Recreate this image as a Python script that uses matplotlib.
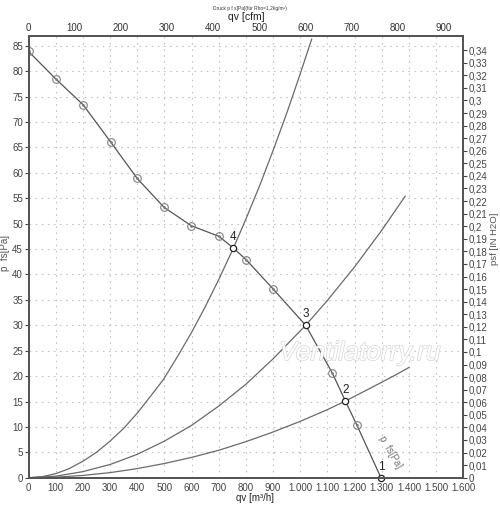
import matplotlib
matplotlib.use("Agg")
import matplotlib.pyplot as plt
import matplotlib.patheffects as pe

plt.rcParams['font.family'] = ['Liberation Sans', 'DejaVu Sans']

# fan curve p fs [Pa] vs qv [m3/h]
fan_q = [0, 100, 201, 302, 400, 499, 599, 701, 754, 801, 901, 1020, 1118, 1166, 1208, 1297]
fan_p = [83.9, 78.5, 73.4, 66.1, 58.9, 53.2, 49.6, 47.5, 45.2, 42.9, 37.1, 30.0, 20.6, 15.1, 10.4, 0.0]
# dotted markers (not the numbered operating points)
mark_q = [0, 100, 201, 302, 400, 499, 599, 701, 801, 901, 1118, 1208]
mark_p = [83.9, 78.5, 73.4, 66.1, 58.9, 53.2, 49.6, 47.5, 42.9, 37.1, 20.6, 10.4]
# numbered operating points
op_q = [1297, 1166, 1020, 754]
op_p = [0.0, 15.1, 30.0, 45.2]
op_lbl = ['1', '2', '3', '4']

# system curves
sysA_q = [0, 50, 100, 150, 202, 250, 300, 350, 400, 450, 496, 550, 600, 650, 700,
          754, 800, 850, 900, 950, 1000, 1042]
sysA_p = [0, 0.2, 0.8, 1.8, 3.3, 5.0, 7.2, 9.7, 12.7, 16.1, 19.3, 24.0, 28.6, 33.6, 39.0,
          45.2, 50.9, 57.4, 64.4, 71.7, 79.5, 86.3]
sysB_q = [0, 100, 200, 300, 400, 500, 600, 700, 800, 900, 1020, 1100, 1200, 1300, 1386]
sysB_p = [0, 0.3, 1.2, 2.6, 4.6, 7.2, 10.3, 14.1, 18.4, 23.4, 30.0, 34.9, 41.5, 48.7, 55.4]
sysC_q = [0, 100, 200, 300, 400, 500, 600, 700, 800, 900, 1000, 1100, 1166, 1250, 1300, 1350, 1400]
sysC_p = [0, 0.1, 0.45, 1.0, 1.8, 2.8, 4.0, 5.4, 7.1, 9.0, 11.1, 13.4, 15.1, 17.4, 18.8, 20.2, 21.7]

x_ticks = list(range(0, 1700, 100))
x_lbls = ['0', '100', '200', '300', '400', '500', '600', '700', '800', '900',
          '1.000', '1.100', '1.200', '1.300', '1.400', '1.500', '1.600']
y_ticks = list(range(0, 90, 5))
cfm_ticks = list(range(0, 1000, 100))
inh2o_ticks = [i / 100 for i in range(0, 35)]

fig = plt.figure(figsize=(5.0, 5.05), dpi=100)
ax = fig.add_axes([0.057, 0.054, 0.8696, 0.8754])

tc = '#444444'
ax.set_xlim(0, 1600)
ax.set_ylim(0, 87)
ax.set_xticks(x_ticks)
ax.set_xticklabels(x_lbls)
ax.set_yticks(y_ticks)
ax.tick_params(axis='both', labelsize=7, colors=tc, length=3, width=0.8, pad=1)
ax.tick_params(axis='x', length=0, pad=4)
ax.grid(True, color='#c4c4c4', linestyle=(0, (1.5, 4)), linewidth=0.8)
for s in ax.spines.values():
    s.set_color('#555555')
    s.set_linewidth(1.3)

for q, p in ((sysA_q, sysA_p), (sysB_q, sysB_p), (sysC_q, sysC_p)):
    ax.plot(q, p, color='#6a6a6a', lw=0.9)
ax.plot(fan_q, fan_p, color='#555555', lw=0.9)
ax.plot(mark_q, mark_p, 'o', ms=5.5, mfc='none', mec='#808080', mew=0.8)
ax.plot(mark_q, mark_p, '.', ms=2, color='#808080')
ax.plot(op_q, op_p, 'o', ms=4.5, mfc='white', mec='#222222', mew=0.9, clip_on=False)
for q, p, t in zip(op_q, op_p, op_lbl):
    ax.text(q, p + 1.0, t, fontsize=8.5, color='#222222', ha='center', va='bottom')

ax.text(1330, 5, 'p  fs[Pa]', fontsize=7, color='#777777', rotation=-60,
        ha='center', va='center')
ax.text(0.762, 0.282, 'Ventilatorry.ru', transform=ax.transAxes, fontsize=19,
        style='italic', color='white', ha='center', va='center',
        path_effects=[pe.withStroke(linewidth=1.0, foreground='#d6d6d6')])

ax.set_xlabel('qv [m\u00b3/h]', fontsize=7, color='#222222')
ax.xaxis.set_label_coords(0.52, -0.035)
ax.set_ylabel('p  fs[Pa]', fontsize=7, color='#555555')
ax.yaxis.set_label_coords(-0.043, 0.508)

# top axis in cfm
axt = ax.twiny()
axt.set_xlim(0, 1600 / 1.699)
axt.set_xticks(cfm_ticks)
axt.tick_params(axis='x', labelsize=7, colors='#333333', length=0, pad=2)
axt.set_xlabel('qv [cfm]', fontsize=7.5, color='#222222', labelpad=2)

# right axis in inch H2O
axr = ax.twinx()
axr.set_ylim(0, 0.3515)
axr.set_yticks(inh2o_ticks)
axr.set_yticklabels([('%g' % v).replace('.', ',') for v in inh2o_ticks])
axr.tick_params(axis='y', labelsize=7, colors=tc, length=3, width=0.8, pad=1)
axr.set_ylabel('psf [IN H2O]', fontsize=6.8, color='#555555', rotation=90)
axr.yaxis.set_label_coords(1.062, 0.54)
for a in (axt, axr):
    for s in a.spines.values():
        s.set_color('#555555')
        s.set_linewidth(1.3)

fig.text(0.5, 0.983, 'Druck p f s[Pa](f\u00fcr Rho=1,2kg/m\u00b3)', fontsize=3.5,
         color='#333333', ha='center', va='center')

fig.savefig('out.png', dpi=100)
